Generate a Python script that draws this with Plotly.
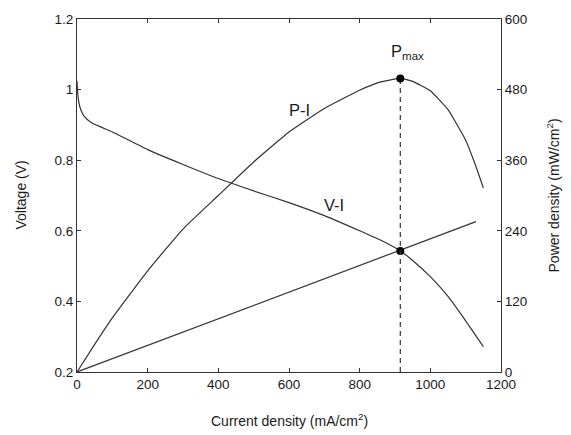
import plotly.graph_objects as go

# V-I curve (left axis, V)
vi_current = [0, 2, 5, 10, 20, 40, 70, 100, 200, 300, 400, 500, 600, 700, 800, 860, 915, 950, 1000, 1050, 1100, 1150]
vi_voltage = [1.024, 0.99, 0.965, 0.945, 0.925, 0.907, 0.893, 0.880, 0.830, 0.788, 0.748, 0.713, 0.680, 0.643, 0.600, 0.573, 0.543, 0.516, 0.470, 0.414, 0.345, 0.272]

# P-I curve (right axis, mW/cm2)
pi_current = [0, 50, 100, 200, 300, 400, 500, 600, 700, 800, 860, 915, 950, 1000, 1050, 1100, 1125, 1150]
pi_power = [0, 47, 92, 172, 243, 300, 357, 408, 448, 479, 493, 499, 494, 478, 446, 394, 356, 313]

# straight line through origin and operating point (left axis)
line_current = [0, 1129]
line_voltage = [0.2, 0.626]

# operating / max power point
op_current = 915
op_voltage = 0.543
op_power = 499

x_ticks = [0, 200, 400, 600, 800, 1000, 1200]
v_ticks = [0.2, 0.4, 0.6, 0.8, 1.0, 1.2]
v_ticktext = ["0.2", "0.4", "0.6", "0.8", "1", "1.2"]
p_ticks = [0, 120, 240, 360, 480, 600]

LC = "#333333"
FONT = "Liberation Sans, Arial, Helvetica, sans-serif"
TC = "#1a1a1a"

fig = go.Figure()
fig.add_trace(go.Scatter(x=vi_current, y=vi_voltage, mode="lines",
                         line=dict(color=LC, width=1.2, shape="spline", smoothing=0.4),
                         yaxis="y", showlegend=False, hoverinfo="skip"))
fig.add_trace(go.Scatter(x=line_current, y=line_voltage, mode="lines",
                         line=dict(color=LC, width=1.2),
                         yaxis="y", showlegend=False, hoverinfo="skip"))
fig.add_trace(go.Scatter(x=pi_current, y=pi_power, mode="lines",
                         line=dict(color=LC, width=1.2, shape="spline", smoothing=0.4),
                         yaxis="y2", showlegend=False, hoverinfo="skip"))
fig.add_trace(go.Scatter(x=[op_current, op_current], y=[0, op_power], mode="lines",
                         line=dict(color=LC, width=1.2, dash="5px,4px"),
                         yaxis="y2", showlegend=False, hoverinfo="skip"))
fig.add_trace(go.Scatter(x=[op_current], y=[op_power], mode="markers",
                         marker=dict(color="black", size=8),
                         yaxis="y2", showlegend=False, hoverinfo="skip"))
fig.add_trace(go.Scatter(x=[op_current], y=[op_voltage], mode="markers",
                         marker=dict(color="black", size=8),
                         yaxis="y", showlegend=False, hoverinfo="skip"))

axis_common = dict(ticks="inside", ticklen=4, showline=True, linecolor=LC, linewidth=1,
                   showgrid=False, zeroline=False, tickcolor=LC, automargin=False,
                   tickfont=dict(size=13.5, color=TC, family=FONT))

# the page body adds an 8px offset, so the figure is sized to fill the rest of the window
fig.update_layout(
    width=563, height=427,
    margin=dict(l=69, r=70, t=11, b=63),
    paper_bgcolor="white", plot_bgcolor="white",
    font=dict(family=FONT, size=14, color=TC),
    xaxis=dict(range=[0, 1200], tickvals=x_ticks, mirror="ticks", **axis_common),
    yaxis=dict(range=[0.2, 1.2], tickvals=v_ticks, ticktext=v_ticktext, **axis_common),
    yaxis2=dict(range=[0, 600], tickvals=p_ticks, overlaying="y", side="right", **axis_common),
)

# curve labels
fig.add_annotation(x=631, y=0.942, xref="x", yref="y", text="P-I", showarrow=False,
                   font=dict(size=16.5, color=TC, family=FONT))
fig.add_annotation(x=727, y=0.672, xref="x", yref="y", text="V-I", showarrow=False,
                   font=dict(size=16.5, color=TC, family=FONT))
fig.add_annotation(x=934, y=544, xref="x", yref="y2", text="P<sub>max</sub>", showarrow=False,
                   font=dict(size=16.5, color=TC, family=FONT))

# axis titles
fig.add_annotation(x=-0.1344, y=0.5, xref="paper", yref="paper", text="Voltage (V)",
                   textangle=-90, showarrow=False, xanchor="center", yanchor="middle",
                   font=dict(size=14, color=TC, family=FONT))
fig.add_annotation(x=1.1226, y=0.5, xref="paper", yref="paper",
                   text="Power density (mW/cm<sup>2</sup>)",
                   textangle=-90, showarrow=False, xanchor="center", yanchor="middle",
                   font=dict(size=14, color=TC, family=FONT))
fig.add_annotation(x=0.5, y=-0.136, xref="paper", yref="paper",
                   text="Current density (mA/cm<sup>2</sup>)",
                   showarrow=False, xanchor="center", yanchor="middle",
                   font=dict(size=14, color=TC, family=FONT))

fig.write_html("out.html")
